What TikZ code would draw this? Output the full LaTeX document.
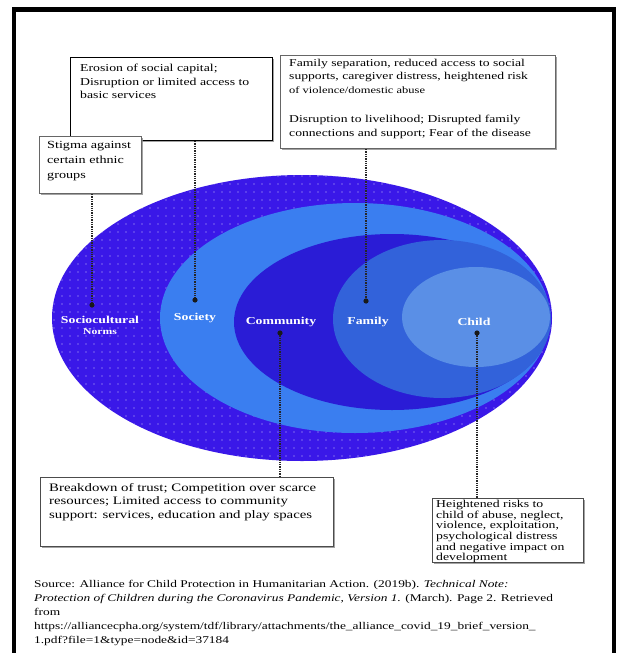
\documentclass[tikz,border=0pt]{standalone}
\usepackage{fontspec}
\setmainfont{Liberation Serif}[FakeStretch=1.3]
\usetikzlibrary{shadows}
\definecolor{outerc}{RGB}{58,24,232}
\definecolor{socc}{RGB}{58,126,240}
\definecolor{comc}{RGB}{42,28,214}
\definecolor{famc}{RGB}{50,98,218}
\definecolor{chic}{RGB}{90,143,230}
\tikzset{
  boxr/.style={draw=#1, line width=1pt, fill=white, inner sep=0pt, anchor=north west,
    drop shadow={shadow xshift=1.2pt, shadow yshift=-1.6pt, fill=black!45, opacity=.8}},
  btext/.style={anchor=north west, align=left, inner sep=0pt, font=\fontsize{10.5}{13.5}\selectfont},
  lbl/.style={text=white, font=\fontsize{10.6}{12}\selectfont\bfseries, align=center, inner sep=0pt},
  link/.style={draw=black!85, line width=1.8pt, dash pattern=on 1.3pt off 1pt},
  pin/.style={fill=black!90},
}
\begin{document}
\begin{tikzpicture}[x=1pt,y=-1pt]
\useasboundingbox (0,0) rectangle (618,653);
\fill[white] (0,0) rectangle (618,653);
% frame
\draw[line width=4.5pt, line join=miter] (14,653) -- (14,9.5) -- (614,9.5) -- (614,653);

% ellipses
\fill[outerc] (302,318) ellipse [x radius=250pt, y radius=143pt];
\begin{scope}
  \clip (302,318) ellipse [x radius=250pt, y radius=143pt];
  \foreach \xx in {54,62,...,552} {
    \foreach \yy in {176,184,...,462} {
      \fill[white, opacity=.35] (\xx,\yy) circle (0.8pt);
    }
  }
\end{scope}
\fill[socc] (355,318) ellipse [x radius=195pt, y radius=115pt];
\fill[comc] (392,322) ellipse [x radius=158pt, y radius=88pt];
\fill[famc] (442,319) ellipse [x radius=109pt, y radius=79pt];
\fill[chic] (476,317) ellipse [x radius=74pt, y radius=50pt];

% labels
\node[lbl] (lsoc) at (100,325) {Sociocultural\\[-1pt]{\fontsize{9}{10}\selectfont Norms}};
\node[lbl] (lsty) at (195,318) {Society};
\node[lbl] (lcom) at (281,322) {Community};
\node[lbl] (lfam) at (368,322) {Family};
\node[lbl] (lchi) at (474,322) {Child};

% pins
\coordinate (d1) at (92,305);
\coordinate (d2) at (195,300);
\coordinate (d3) at (366,301);
\coordinate (d4) at (280,333);
\coordinate (d5) at (477,333);

% boxes
\node[boxr=black, minimum width=202pt, minimum height=83pt] (b1) at (70,57) {};
\node[btext, font=\fontsize{10.6}{13.5}\selectfont] (t1) at (80,64) {Erosion of social capital;\\Disruption or limited access to\\basic services};

\node[boxr=black!60, minimum width=275pt, minimum height=93pt] (b2) at (280,55) {};
\node[btext] (t2) at (289,59) {Family separation, reduced access to social\\supports, caregiver distress, heightened risk\\{\fontsize{9.6}{13.5}\selectfont of violence/domestic abuse}\\[16pt]Disruption to livelihood; Disrupted family\\connections and support; Fear of the disease};

\node[boxr=black!60, minimum width=102pt, minimum height=57pt] (b3) at (39,136) {};
\node[btext, font=\fontsize{10.9}{15}\selectfont] (t3) at (47,141) {Stigma against\\certain ethnic\\groups};

\node[boxr=black!70, minimum width=293pt, minimum height=69pt] (b4) at (40,477) {};
\node[btext, font=\fontsize{11.4}{13.5}\selectfont] (t4) at (49,483) {Breakdown of trust; Competition over scarce\\resources; Limited access to community\\support: services, education and play spaces};

\node[boxr=black!70, minimum width=151pt, minimum height=64pt] (b5) at (432,498) {};
\node[btext, font=\fontsize{10.6}{9.6}\selectfont] (t5) at (436,500) {Heightened risks to\\child of abuse, neglect,\\violence, exploitation,\\psychological distress\\and negative impact on\\development};

% connectors
\draw[link] (b3.south -| d1) -- (d1);
\draw[link] (b1.south -| d2) -- (d2);
\draw[link] (b2.south -| d3) -- (d3);
\draw[link] (d4) -- (b4.north -| d4);
\draw[link] (d5) -- (b5.north -| d5);
\foreach \d in {d1,d2,d3,d4,d5} \fill[pin] (\d) circle (2.6pt);

% source
\node[anchor=north west, align=left, inner sep=0pt, font=\fontsize{10.3}{14}\selectfont] (src) at (34,580)
{Source: Alliance for Child Protection in Humanitarian Action. (2019b). \textit{Technical Note:}\\
\textit{Protection of Children during the Coronavirus Pandemic, Version 1.} (March). Page 2. Retrieved\\
from\\
https://alliancecpha.org/system/tdf/library/attachments/the\_alliance\_covid\_19\_brief\_version\_\\
1.pdf?file=1\&type=node\&id=37184};
\end{tikzpicture}
\end{document}
